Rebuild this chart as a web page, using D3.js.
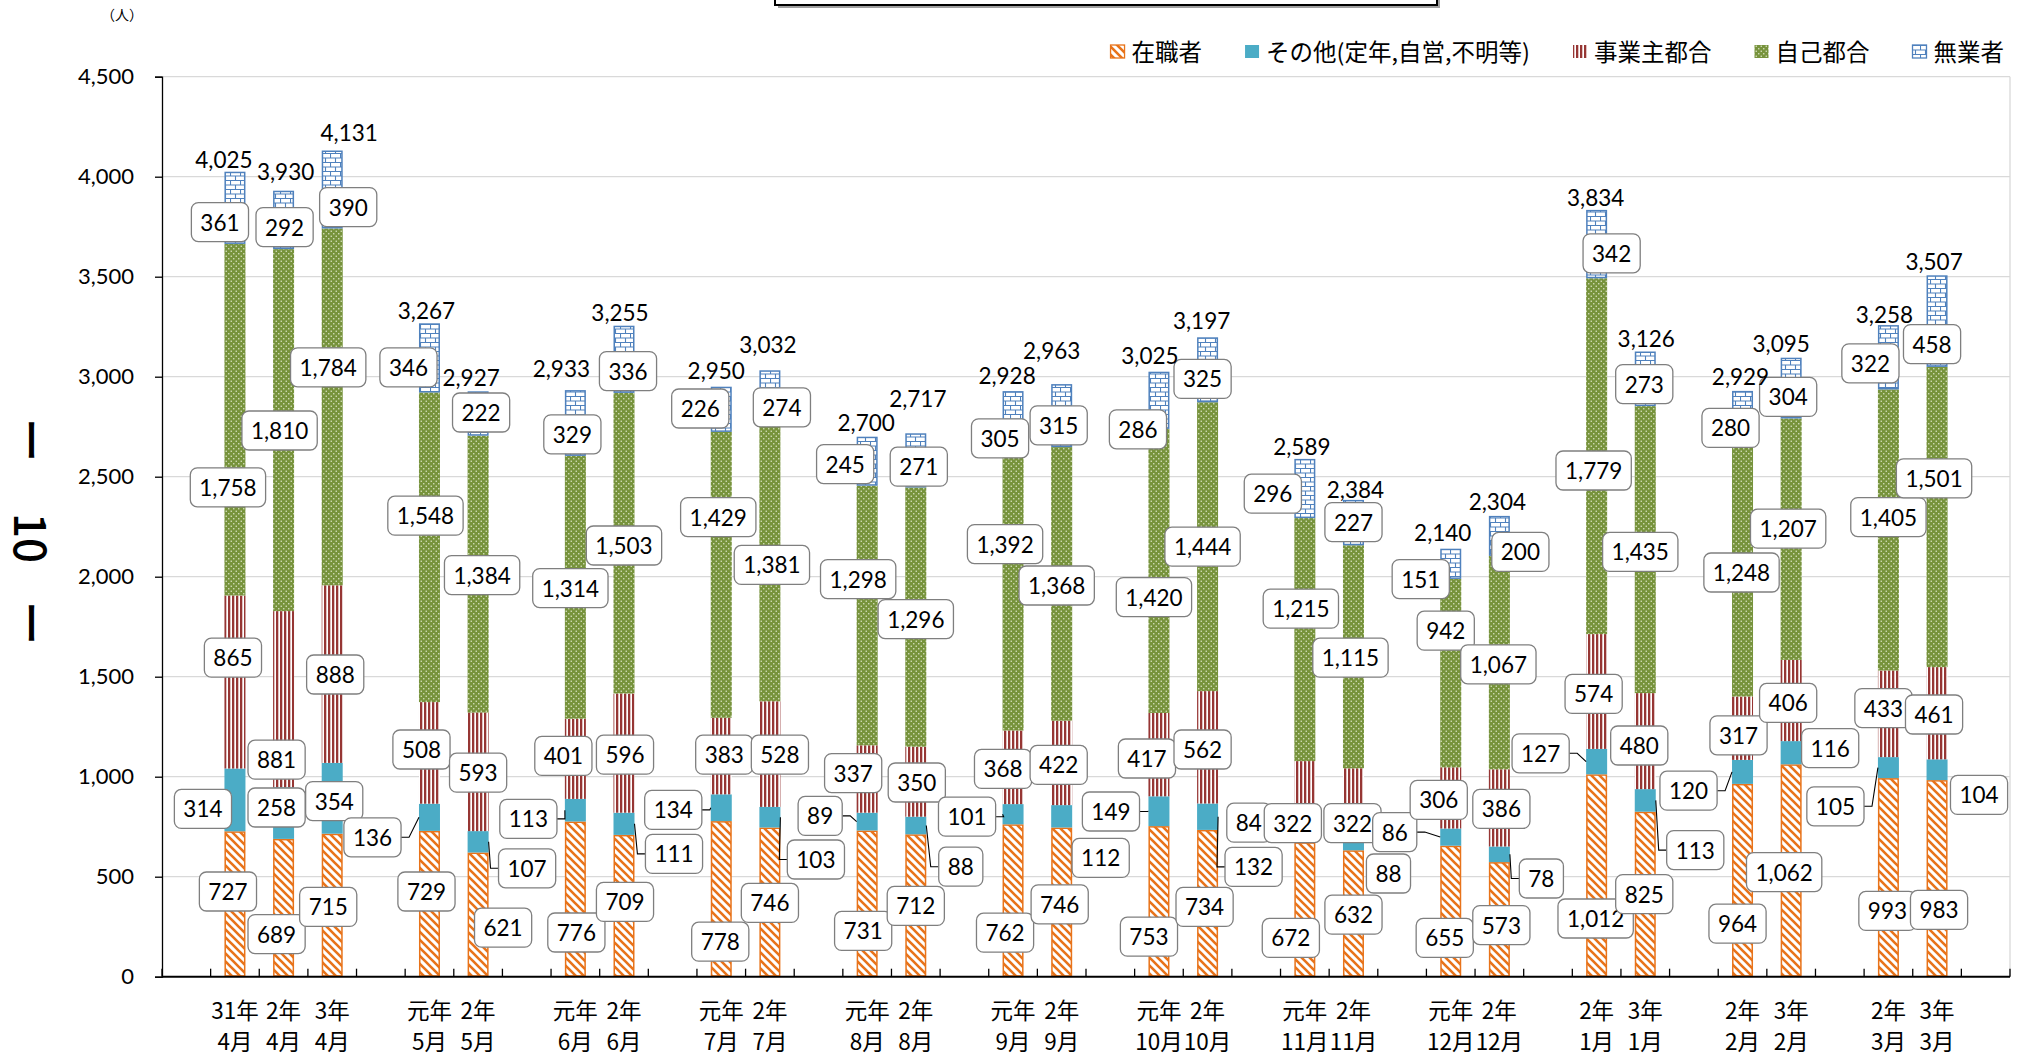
<!DOCTYPE html>
<html><head><meta charset="utf-8">
<script src="https://cdn.jsdelivr.net/npm/d3@7"></script>
<style>body{margin:0;background:#fff;} svg{display:block;}</style>
</head><body><svg id="c" width="2026" height="1059"></svg>
<script>
// ---------- data ----------
const groupMonths = ["4月","5月","6月","7月","8月","9月","10月","11月","12月","1月","2月","3月"];
const groupYears = [["31年","2年","3年"],["元年","2年"],["元年","2年"],["元年","2年"],["元年","2年"],["元年","2年"],["元年","2年"],["元年","2年"],["元年","2年"],["2年","3年"],["2年","3年"],["2年","3年"]];
const seriesNames = ["在職者","その他(定年,自営,不明等)","事業主都合","自己都合","無業者"];
const zaishoku   = [727,689,715,729,621,776,709,778,746,731,712,762,746,753,734,672,632,655,573,1012,825,964,1062,993,983];
const sonota     = [314,258,354,136,107,113,111,134,103,89,88,101,112,149,132,84,88,86,78,127,113,120,116,105,104];
const jigyonushi = [865,881,888,508,593,401,596,383,528,337,350,368,422,417,562,322,322,306,386,574,480,317,406,433,461];
const jiko       = [1758,1810,1784,1548,1384,1314,1503,1429,1381,1298,1296,1392,1368,1420,1444,1215,1115,942,1067,1779,1435,1248,1207,1405,1501];
const mugyo      = [361,292,390,346,222,329,336,226,274,245,271,305,315,286,325,296,227,151,200,342,273,280,304,322,458];
const totals     = [4025,3930,4131,3267,2927,2933,3255,2950,3032,2700,2717,2928,2963,3025,3197,2589,2384,2140,2304,3834,3126,2929,3095,3258,3507];
const yTicks = [0,500,1000,1500,2000,2500,3000,3500,4000,4500];
const unitLabel = "（人）";

// ---------- label layout (dx px from bar centre, anchor level in data units) ----------
const labZ = [[-7,426],[-7,213],[-4,349],[-3,426],[25,245],[1,221],[1,374],[-1,175],[0,369],[-4,229],[0,354],[-8,220],[-2,362],[-10,200],[-3,349],[-14,194],[0,310],[-6,194],[2,258],[-1,291],[-1,413],[-5,265],[-7,523],[-1,329],[2,334]];
const labS = [[-32,839],[-7,846],[2,878],[-57,697],[49,542],[-47,789],[50,614],[-48,834],[46,586],[-47,804],[45,550],[-46,800],[39,594],[-48,826],[46,549],[-56,770],[35,516],[-56,723],[42,491],[-56,1117],[50,633],[-54,930],[39,1143],[-53,852],[42,909]];
const labJ = [[-2,1595],[-7,1085],[3,1511],[-8,1136],[0,1020],[-12,1104],[1,1110],[3,1110],[10,1110],[-14,1018],[1,971],[-10,1039],[-3,1059],[-12,1091],[-5,1136],[-12,768],[-1,768],[-12,884],[2,839],[-3,1414],[-6,1156],[-4,1207],[-3,1369],[-5,1343],[-3,1311]];
const labK = [[-7,2447],[-4,2731],[-4,3047],[-4,2305],[4,2008],[-5,1943],[0,2156],[-3,2298],[2,2059],[-9,1988],[0,1788],[-8,2163],[-5,1956],[-5,1898],[-5,2150],[-4,1840],[-3,1595],[-5,1730],[-1,1562],[-3,2531],[-5,2124],[-1,2021],[-3,2240],[0,2298],[-3,2492]];
const labM = [[-15,3773],[1,3748],[16,3848],[-21,3047],[3,2821],[-3,2712],[4,3028],[-21,2841],[12,2847],[-22,2563],[3,2550],[-13,2692],[-3,2757],[-21,2737],[-5,2989],[-32,2415],[0,2273],[-30,1988],[21,2124],[15,3617],[-1,2963],[-12,2744],[-3,2899],[-18,3067],[-5,3163]];
const labT   = [-11,2,17,-3,-7,-14,-4,-5,-2,-1,2,-6,-10,-9,-6,-3,2,-8,-2,-1,1,-2,-10,-4,-3];
const labTdy = [-12,-19,-18,-13,-14,-22,-13,-16,-26,-14,-35,-16,-34,-16,-17,-12,-10,-16,-14,-12,-13,-14,-14,-11,-14];

// ---------- build ----------
const svg = d3.select("#c");
const defs = svg.append("defs");
const NUM = "Lato, 'Liberation Sans', sans-serif";
const JP = "'Noto Sans CJK JP', 'Noto Sans', sans-serif";

// patterns
const ORANGE="#E8731A", TEAL="#4BACC6", RED="#963634", GREEN="#77933C", BLUE="#4F81BD";
let p = defs.append("pattern").attr("id","pOr").attr("patternUnits","userSpaceOnUse").attr("width",8).attr("height",8);
p.append("rect").attr("width",8).attr("height",8).attr("fill","#fff");
p.append("path").attr("d","M-2,-2L10,10M-2,6L2,10M6,-2L10,2").attr("stroke",ORANGE).attr("stroke-width",2.6);
p = defs.append("pattern").attr("id","pRd").attr("patternUnits","userSpaceOnUse").attr("width",4).attr("height",4);
p.append("rect").attr("width",4).attr("height",4).attr("fill","#fff");
p.append("rect").attr("width",2.3).attr("height",4).attr("fill",RED);
p = defs.append("pattern").attr("id","pGr").attr("patternUnits","userSpaceOnUse").attr("width",5).attr("height",5);
p.append("rect").attr("width",5).attr("height",5).attr("fill",GREEN);
p.append("rect").attr("x",0.6).attr("y",0.6).attr("width",1.3).attr("height",1.3).attr("fill","#dfe8cc");
p.append("rect").attr("x",3.1).attr("y",3.1).attr("width",1.3).attr("height",1.3).attr("fill","#dfe8cc");
p = defs.append("pattern").attr("id","pBl").attr("patternUnits","userSpaceOnUse").attr("width",10).attr("height",9);
p.append("rect").attr("width",10).attr("height",9).attr("fill","#fff");
p.append("path").attr("d","M0,0.5H10M0,5H10M0.5,0.5V5M5.5,5V9").attr("stroke",BLUE).attr("stroke-width",1.1).attr("fill","none");

const seriesStyle = [
  {fill:"url(#pOr)", stroke:ORANGE},
  {fill:TEAL, stroke:"none"},
  {fill:"url(#pRd)", stroke:"none"},
  {fill:"url(#pGr)", stroke:"none"},
  {fill:"url(#pBl)", stroke:BLUE}
];
const seriesVals = [zaishoku, sonota, jigyonushi, jiko, mugyo];
const seriesLab = [labZ, labS, labJ, labK, labM];

// categories and slots
const cats = [];
const slots = [];
groupMonths.forEach((m,gi)=>{
  slots.push("gap"+gi);
  groupYears[gi].forEach((yv,k)=>{ const id="b"+cats.length; cats.push({id, year:yv, month:m}); slots.push(id); });
});
slots.push("gapEnd");

const x = d3.scaleBand().domain(slots).range([162,2010]).padding(0);
const y = d3.scaleLinear().domain([0,4500]).range([976.7,76.7]);
const barW = 21;
const cx = i => x(cats[i].id) + x.bandwidth()/2;

// top box
svg.append("rect").attr("x",778).attr("y",-20).attr("width",662).attr("height",28).attr("fill","#a0a0a0");
svg.append("rect").attr("x",775).attr("y",-20).attr("width",662).attr("height",25).attr("fill","#fff").attr("stroke","#000").attr("stroke-width",2);

// gridlines
svg.append("g").selectAll("line").data(yTicks.filter(d=>d>0)).join("line")
  .attr("x1",162).attr("x2",2010).attr("y1",d=>y(d)).attr("y2",d=>y(d))
  .attr("stroke","#d9d9d9").attr("stroke-width",1.3);
svg.append("line").attr("x1",2010).attr("x2",2010).attr("y1",y(4500)).attr("y2",y(0)).attr("stroke","#d9d9d9").attr("stroke-width",1.3);

// y axis
const ya = svg.append("g").attr("transform","translate(162,0)")
  .call(d3.axisLeft(y).tickValues(yTicks).tickFormat(d3.format(",")).tickSize(7).tickPadding(21));
ya.select(".domain").attr("stroke","#000").attr("stroke-width",1.3);
ya.selectAll(".tick line").attr("stroke","#000").attr("stroke-width",1.3);
ya.selectAll(".tick text").attr("font-family",NUM).attr("font-size",22).attr("fill","#000");

svg.append("text").attr("x",122).attr("y",14).attr("text-anchor","middle").attr("dominant-baseline","central")
  .attr("font-family",JP).attr("font-size",14).text(unitLabel);

// bars
const bars = svg.append("g");
const stacks = [];
cats.forEach((c,i)=>{
  let cum = 0;
  const st = [];
  seriesVals.forEach((vals,s)=>{
    const v = vals[i];
    st.push({s, v, y0:cum, y1:cum+v});
    cum += v;
  });
  stacks.push(st);
});
stacks.forEach((st,i)=>{
  st.forEach(d=>{
    const sty = seriesStyle[d.s];
    const sw = sty.stroke==="none"?0:1.5;
    bars.append("rect")
      .attr("x", cx(i)-barW/2 + sw/2)
      .attr("y", y(d.y1) + sw/2)
      .attr("width", barW - sw)
      .attr("height", Math.max(0, y(d.y0)-y(d.y1) - sw))
      .attr("fill", sty.fill)
      .attr("stroke", sty.stroke).attr("stroke-width", sw);
  });
});

// x axis
svg.append("line").attr("x1",162).attr("x2",2010).attr("y1",y(0)).attr("y2",y(0)).attr("stroke","#000").attr("stroke-width",2);
const bounds = slots.map(s=>x(s)).concat([x.range()[1]]);
svg.append("g").selectAll("line").data(bounds).join("line")
  .attr("x1",d=>d).attr("x2",d=>d).attr("y1",y(0)).attr("y2",y(0)-8).attr("stroke","#000").attr("stroke-width",1.3);
const xl = svg.append("g").attr("font-family",JP).attr("font-size",22.5).attr("fill","#000").attr("text-anchor","middle");
cats.forEach((c,i)=>{
  xl.append("text").attr("x",cx(i)).attr("y",1009).attr("dominant-baseline","central").text(c.year);
  xl.append("text").attr("x",cx(i)).attr("y",1040).attr("dominant-baseline","central").text(c.month);
});

// data labels
const fmt = d3.format(",");
const labG = svg.append("g");
const leadG = labG.append("g");
const boxG = labG.append("g");
function textWidth(str, size, fam){
  const t = svg.append("text").attr("font-family",fam).attr("font-size",size).text(str);
  const w = t.node().getComputedTextLength(); t.remove(); return w;
}
const LFS = 22.5;
stacks.forEach((st,i)=>{
  st.forEach(d=>{
    const [dx, lv] = seriesLab[d.s][i];
    const lx = cx(i)+dx, ly = y(lv);
    const str = fmt(d.v);
    const tw = textWidth(str, LFS, NUM);
    const bw = tw + 18, bh = 39;
    // leader line
    const gap = Math.abs(dx) - bw/2 - barW/2;
    if (gap > 5) {
      const side = dx<0 ? -1 : 1;
      const ax = cx(i) + side*barW/2, ay = y((d.y0+d.y1)/2);
      const ex = lx - side*bw/2;
      leadG.append("polyline").attr("points",[[ax,ay],[ex - side*8, ly],[ex, ly]].map(p=>p.join(",")).join(" "))
        .attr("fill","none").attr("stroke","#000").attr("stroke-width",1.1);
    }
    const g = boxG.append("g");
    g.append("rect").attr("x",lx-bw/2).attr("y",ly-bh/2).attr("width",bw).attr("height",bh).attr("rx",7)
      .attr("fill","#fff").attr("stroke","#7f7f7f").attr("stroke-width",1.3);
    g.append("text").attr("x",lx).attr("y",ly).attr("text-anchor","middle").attr("dominant-baseline","central")
      .attr("font-family",NUM).attr("font-size",LFS).attr("fill","#000").text(str);
  });
  // totals
  labG.append("text").attr("x",cx(i)+labT[i]).attr("y",y(totals[i])+labTdy[i]).attr("text-anchor","middle").attr("dominant-baseline","central")
    .attr("font-family",NUM).attr("font-size",LFS).attr("fill","#000").text(fmt(totals[i]));
});

// legend
const leg = svg.append("g");
let cursor = 2004;
const legItems = seriesNames.map((n,s)=>({n,s})).reverse();
legItems.forEach(it=>{
  const w = textWidth(it.n, 23.5, JP);
  const tx = cursor - w;
  leg.append("text").attr("x",tx).attr("y",51).attr("dominant-baseline","central").attr("font-family",JP).attr("font-size",23.5).attr("fill","#000").text(it.n);
  const sty = seriesStyle[it.s];
  leg.append("rect").attr("x",tx-21).attr("y",45).attr("width",14).attr("height",13)
    .attr("fill",sty.fill).attr("stroke",sty.stroke==="none"?"none":sty.stroke).attr("stroke-width",1.3);
  cursor = tx - 21 - 43;
});

// page number (vertical)
const pg = svg.append("g").attr("font-family",JP).attr("font-size",44).attr("font-weight",500).attr("fill","#000");
[["ー",440],["10",538],["ー",623]].forEach(([t,yy])=>{
  pg.append("text").attr("transform",`translate(33,${yy}) rotate(90)`).attr("text-anchor","middle").attr("dominant-baseline","central").text(t);
});
</script></body></html>
